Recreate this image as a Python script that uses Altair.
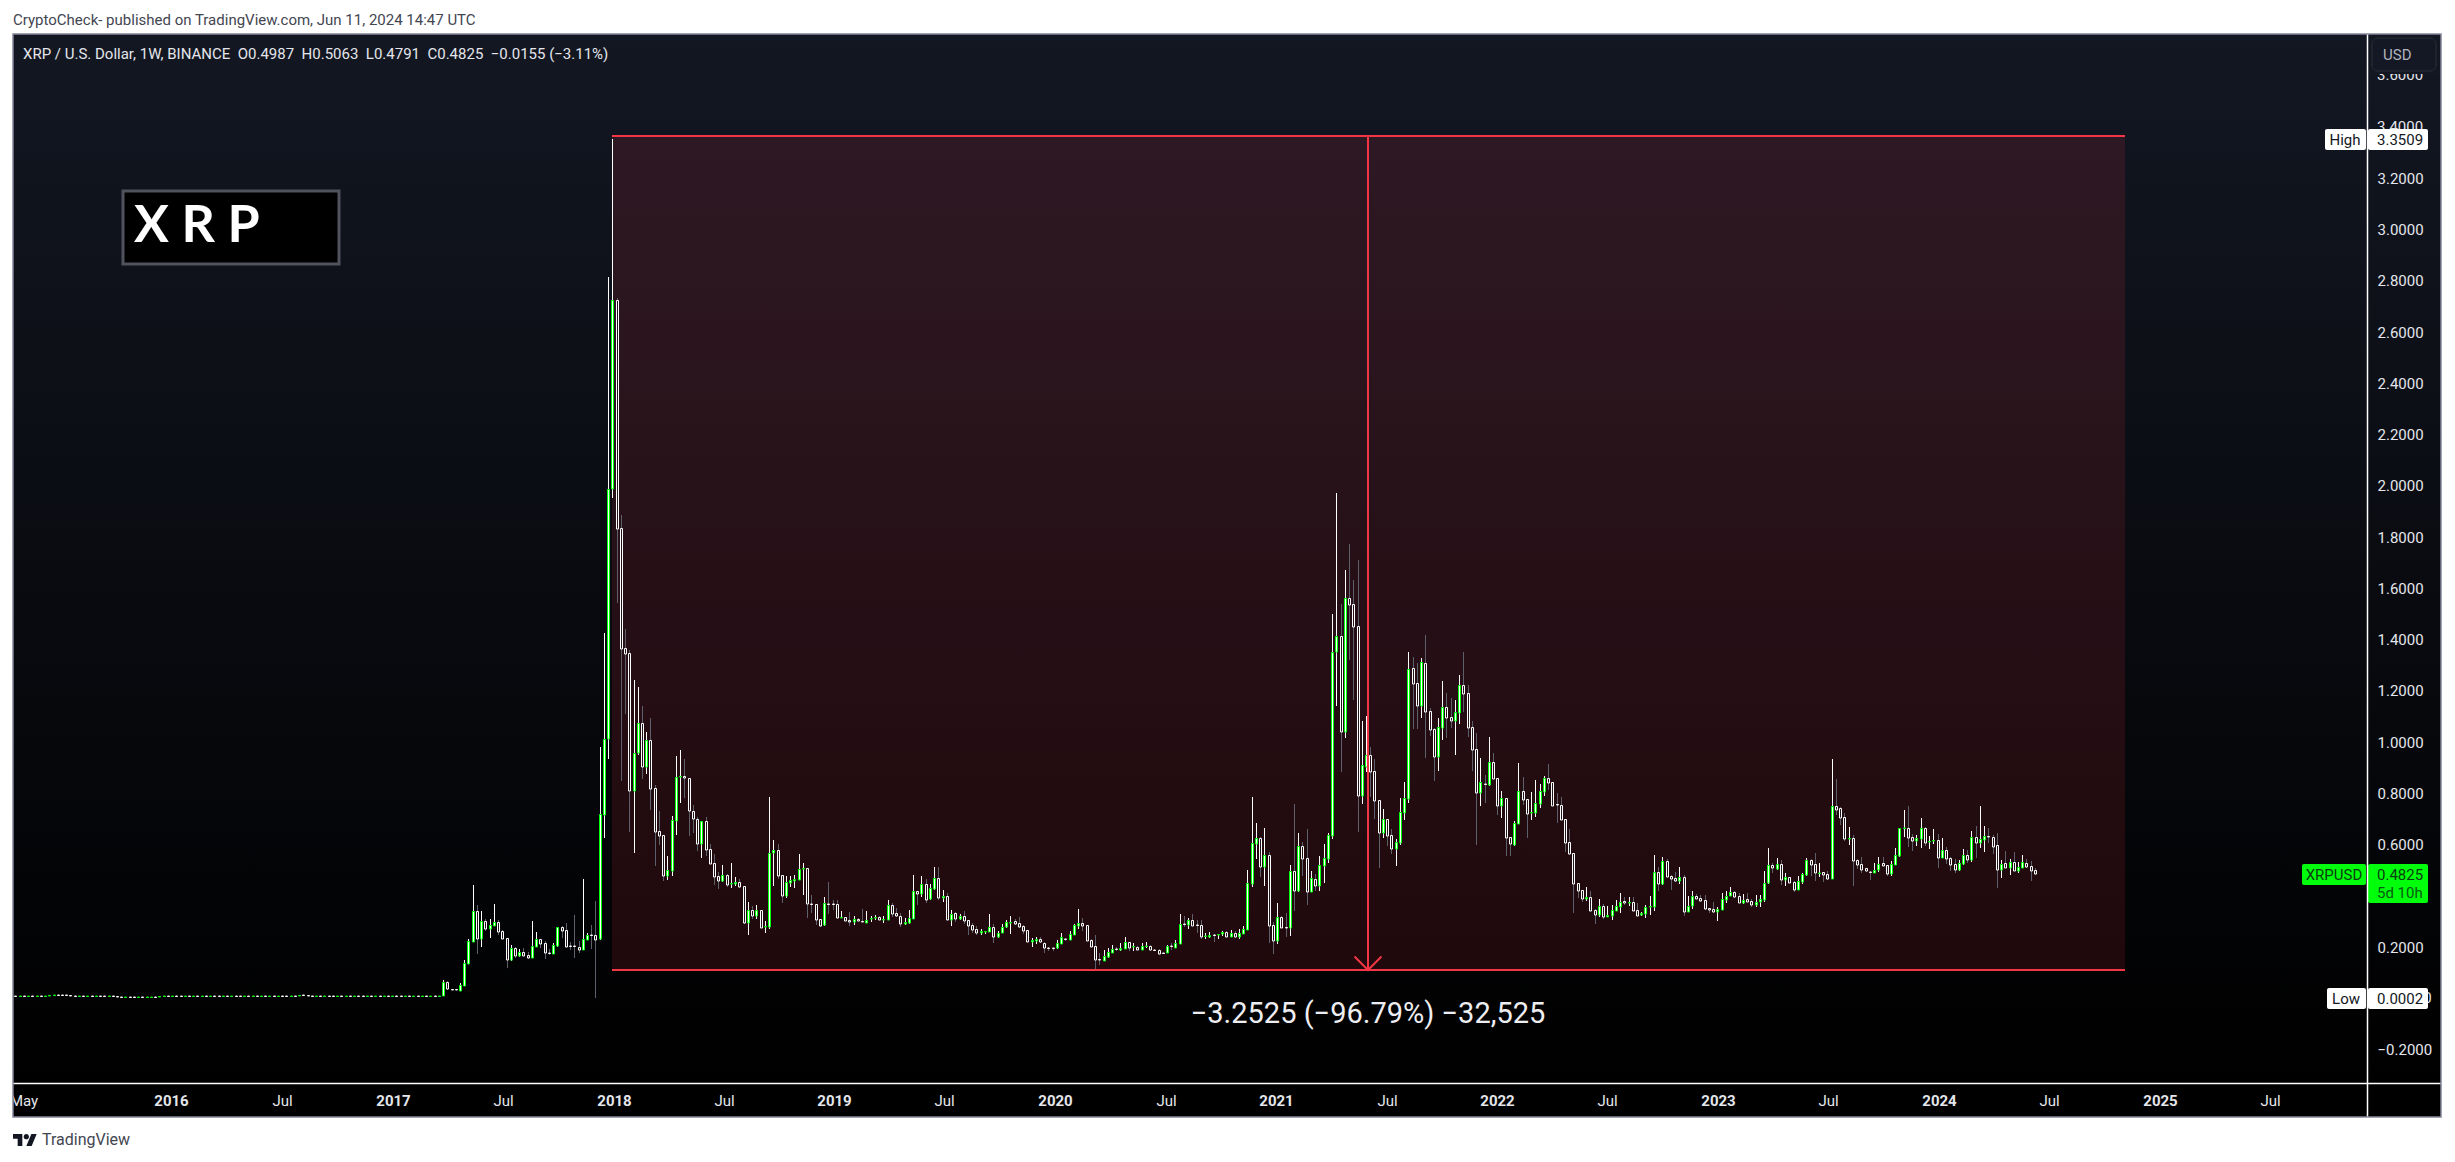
import pandas as pd
import altair as alt

# weekly candles from 2015-04-20 up to 2024-06-10, prices
opens = [
    .0078, .0074, .0078, .0073, .0077, .0074, .0078, .0073, .0077, .0105,
    .0108, .0106, .0104, .0101, .0082, .0079, .0081, .0077, .0080, .0078,
    .0081, .0078, .0076, .0078, .0075, .0050, .0047, .0052, .0049, .0047,
    .0051, .0046, .0049, .0052, .0050, .0074, .0078, .0073, .0079, .0074,
    .0072, .0078, .0074, .0079, .0073, .0077, .0074, .0080, .0075, .0072,
    .0077, .0073, .0079, .0074, .0072, .0078, .0075, .0080, .0074, .0078,
    .0073, .0077, .0074, .0079, .0075, .0072, .0078, .0073, .0105, .0102,
    .0076, .0073, .0078, .0074, .0079, .0075, .0072, .0077, .0074, .0079,
    .0073, .0077, .0075, .0072, .0078, .0074, .0079, .0073, .0077, .0074,
    .0079, .0075, .0072, .0078, .0074, .0079, .0073, .0077, .0074, .0079,
    .0075,
    .0091, .0624, .0340, .0335, .0286, .0480, .1340, .2198, .3394, .2315,
    .2991, .2705, .2822, .2965, .2614, .2328, .1483, .1951, .1639, .1795,
    .1665, .1574, .2003, .2289, .2133, .1775, .1730, .2029, .2757, .2653,
    .2020, .2020, .1977, .1886, .2276, .2450, .2445, .2289, .7153, 1.0092,
    1.9850, 2.7220, 1.8320, 1.3643, 1.3448, .8090, .9572, 1.0717, .9026, 1.0054,
    .8181, .6503, .6347, .4773, .4968, .6919, .8610, .8649, .8571, .7283,
    .6971, .6022, .6893, .5801, .5254, .4747, .4565, .4786, .4460, .4447,
    .4513, .4357, .2939, .3421, .3213, .3421, .2770, .2783, .5644, .5762,
    .4786, .3993, .4500, .4578, .4617, .5020, .5059, .3660, .3655, .3069,
    .2835, .3685, .3660, .3655, .3134, .3147, .3030, .2965, .3069, .2995,
    .2939, .3082, .3140, .3147, .3060, .3056, .3616, .3303, .3213, .2887,
    .2939, .3095, .4162, .4071, .4435, .3850, .4266, .4669, .3915, .3967,
    .3056, .3303, .3082, .3186, .3030, .2835, .2679, .2549, .2575, .2588,
    .2757, .2380, .2549, .2757, .2939, .2991, .2913, .2796, .2640, .2198,
    .2237, .2289, .2159, .1970, .1945, .1938, .2120, .2320, .2276, .2471,
    .2809, .2913, .2835, .2250, .2016, .1510, .1457, .1613, .1769, .1905,
    .1886, .1925, .2172, .2003, .2003, .1886, .2010, .2029, .1878, .1873,
    .1748, .1769, .2034, .1951, .2120, .2880, .2861, .3043, .2840, .2835,
    .2400, .2393, .2450, .2445, .2484, .2575, .2393, .2523, .2393, .2510,
    .2666, .4461, .6022, .6230, .5124, .5567, .2835, .2237, .3147, .2760,
    .2718, .4942, .4175, .5918, .5450, .4149, .4630, .4370, .5163, .5437,
    .6334, 1.3513, 1.4112, 1.0366, 1.5594, 1.5360, 1.4502, .7895, .9000, .9468,
    .8844, .7713, .6451, .6971, .6347, .5827, .6061, .7231, .7765, 1.2863,
    1.2278, 1.1406, 1.3058, 1.1185, 1.0483, .9416, 1.0548, 1.1341, 1.0951, 1.0821,
    1.1133, 1.2200, 1.1887, 1.0561, .9703, .8012, .8360, .8311, .9195, .8571,
    .7504, .7791, .6269, .5983, .6802, .8064, .7752, .7235, .7231, .7583,
    .8051, .8571, .8415, .7560, .7517, .6971, .6074, .5645, .4474, .4201,
    .3863, .3928, .3421, .3252, .3577, .3173, .3212, .3408, .3564, .3785,
    .3725, .3733, .3447, .3225, .3291, .3570, .3564, .4903, .4448, .5332,
    .4747, .4669, .4565, .4708, .3356, .3590, .3967, .3902, .3811, .3499,
    .3460, .3356, .3447, .3837, .3980, .4123, .3967, .3707, .3850, .3772,
    .3642, .3759, .3837, .4474, .5176, .5033, .5215, .4617, .4708, .4513,
    .4227, .4539, .4799, .5371, .5228, .4885, .4903, .4825, .4656, .7478,
    .7400, .7049, .6220, .6230, .5371, .5215, .5059, .4935, .4890, .5007,
    .5254, .5176, .4838, .5202, .5540, .6615, .6620, .6269, .6139, .6217,
    .6620, .6105, .6145, .6152, .5476, .5762, .5450, .5215, .4994, .5241,
    .5567, .5384, .6269, .6061, .6178, .6315, .6269, .5957, .5007, .5254,
    .5085, .5293, .4955, .5085, .5254, .5137, .4987,
]
highs = [
    .0080, .0080, .0080, .0080, .0080, .0080, .0080, .0080, .0107, .0110,
    .0108, .0106, .0105, .0103, .0083, .0081, .0082, .0081, .0081, .0082,
    .0082, .0079, .0079, .0079, .0076, .0052, .0053, .0053, .0050, .0052,
    .0052, .0050, .0053, .0053, .0075, .0079, .0079, .0080, .0080, .0075,
    .0080, .0080, .0080, .0080, .0080, .0080, .0080, .0080, .0080, .0080,
    .0080, .0080, .0080, .0080, .0080, .0080, .0080, .0080, .0080, .0080,
    .0080, .0080, .0080, .0080, .0080, .0080, .0080, .0107, .0107, .0103,
    .0080, .0080, .0080, .0080, .0080, .0080, .0080, .0080, .0080, .0080,
    .0080, .0080, .0080, .0080, .0080, .0080, .0080, .0080, .0080, .0080,
    .0080, .0080, .0080, .0080, .0080, .0080, .0080, .0080, .0080, .0080,
    .0095,
    .0702, .0660, .0350, .0350, .0572, .1483, .2302, .4409, .3629, .3394,
    .3082, .3082, .3668, .3043, .2653, .2340, .2068, .1977, .1912, .1951,
    .1795, .3004, .2575, .2289, .2224, .1899, .2133, .2757, .2809, .2913,
    .2185, .3238, .2224, .4643, .2523, .2848, .3785, .9780, 1.4228, 2.8130,
    3.3509, 2.7300, 1.8840, 1.4385, 1.3578, 1.2395, 1.2122, 1.1380, 1.0366, 1.0912,
    .8298, .7296, .6370, .5541, .7101, .9429, .9676, .9325, .8600, .7531,
    .7049, .6893, .7049, .6009, .5606, .4916, .5189, .4825, .5254, .4708,
    .4643, .4380, .3733, .3590, .3616, .3440, .2991, .7843, .6165, .6009,
    .4810, .4760, .4760, .4812, .5606, .5267, .5080, .4019, .3670, .3080,
    .3928, .4513, .3824, .3824, .3382, .3160, .3356, .3186, .3108, .3473,
    .3395, .3200, .3239, .3200, .3186, .3811, .3694, .3512, .3316, .3121,
    .3434, .4799, .4188, .4760, .4643, .4461, .5111, .5111, .4214, .4097,
    .3434, .3342, .3278, .3395, .3050, .2939, .2809, .2705, .2627, .3278,
    .2887, .2601, .2887, .3056, .3200, .3069, .3160, .2848, .2660, .2341,
    .2393, .2367, .2180, .1980, .1970, .2250, .2523, .2328, .2614, .2887,
    .3460, .3121, .2848, .2289, .2458, .1769, .1873, .1938, .2068, .2003,
    .2133, .2380, .2198, .2133, .2029, .2159, .2185, .2068, .1900, .1899,
    .1769, .2068, .2133, .2263, .3264, .3200, .3108, .3264, .3030, .3043,
    .2536, .2575, .2497, .2510, .2627, .2601, .2653, .2627, .2692, .2809,
    .4994, .7830, .6815, .6295, .6620, .5710, .2978, .3694, .3200, .3304,
    .5189, .7569, .6425, .6100, .6581, .4942, .4825, .5528, .5996, .6425,
    1.4970, 1.9704, 1.5360, 1.6700, 1.7701, 1.6310, 1.7090, 1.0808, 1.1003, .9794,
    .9312, .7730, .7361, .6990, .6581, .6217, .7804, .8415, 1.3487, 1.3305,
    1.3071, 1.3266, 1.4164, 1.1302, 1.0522, 1.0925, 1.2369, 1.1900, 1.1705, 1.1627,
    1.2603, 1.3500, 1.2200, 1.0795, 1.0340, .9364, .8714, 1.0184, .9559, .8590,
    .8064, .7810, .6290, .6893, .9156, .8610, .7770, .8038, .8506, .8363,
    .8662, .9130, .8430, .7986, .7843, .6990, .6594, .5665, .4490, .4220,
    .4331, .4175, .3486, .3863, .3668, .3590, .3629, .3824, .4084, .3954,
    .3928, .3954, .3694, .3355, .3642, .3980, .5580, .5111, .5501, .5436,
    .4812, .4916, .5111, .4799, .3980, .4175, .4045, .4032, .4019, .3525,
    .3733, .3538, .4084, .4175, .4331, .4188, .4097, .4071, .4097, .3850,
    .4006, .4006, .4955, .5853, .5254, .5450, .5371, .4864, .4730, .4552,
    .4760, .4864, .5450, .5410, .5645, .5254, .4929, .4942, .9312, .8532,
    .7439, .7205, .6659, .6347, .5410, .5502, .5085, .4968, .5254, .5502,
    .5502, .5202, .5345, .5840, .6633, .7335, .7491, .6386, .6347, .7023,
    .6659, .6321, .6594, .6386, .6243, .5892, .5489, .5410, .5384, .5814,
    .5775, .6516, .6711, .7491, .6711, .6633, .6360, .6438, .5384, .5736,
    .5423, .5697, .5306, .5579, .5423, .5345, .5063,
]
lows = [
    .0071, .0071, .0071, .0071, .0071, .0071, .0071, .0071, .0076, .0104,
    .0105, .0103, .0100, .0080, .0078, .0078, .0076, .0076, .0077, .0077,
    .0077, .0075, .0075, .0074, .0049, .0046, .0046, .0048, .0046, .0046,
    .0045, .0045, .0048, .0049, .0049, .0073, .0072, .0072, .0073, .0071,
    .0071, .0071, .0071, .0071, .0071, .0071, .0071, .0071, .0071, .0071,
    .0071, .0071, .0071, .0071, .0071, .0071, .0071, .0071, .0071, .0071,
    .0071, .0071, .0071, .0071, .0071, .0071, .0071, .0071, .0071, .0075,
    .0071, .0071, .0071, .0071, .0071, .0071, .0071, .0071, .0071, .0071,
    .0071, .0071, .0071, .0071, .0071, .0071, .0071, .0071, .0071, .0071,
    .0071, .0071, .0071, .0071, .0071, .0071, .0071, .0071, .0071, .0071,
    .0074,
    .0070, .0330, .0320, .0320, .0280, .0480, .1340, .2198, .1717, .1977,
    .2614, .2341, .2822, .2458, .2289, .1171, .1444, .1548, .1600, .1620,
    .1522, .1574, .2003, .1951, .1522, .1665, .1730, .1977, .2341, .1977,
    .1873, .1561, .1756, .1873, .2276, .1912, .0002, .2276, .6256, .9338,
    1.9500, 1.5400, .8480, 1.1081, .6477, .5671, .9500, .8558, .8740, .7335,
    .5163, .5970, .4578, .4617, .4773, .6360, .7609, .7804, .6321, .6451,
    .5749, .5476, .5554, .5228, .4422, .4266, .4539, .4318, .4305, .4370,
    .4292, .2887, .2471, .3082, .3082, .2718, .2549, .2705, .4370, .4656,
    .3720, .3915, .4331, .4305, .4617, .4032, .3134, .3317, .2861, .2783,
    .2822, .3290, .3447, .3108, .3134, .3004, .2822, .2861, .2978, .2952,
    .2926, .2965, .3043, .3030, .2939, .3056, .3173, .3173, .2783, .2861,
    .2900, .3082, .3629, .3954, .3720, .3824, .4214, .3837, .3746, .3030,
    .2822, .2978, .3056, .2887, .2471, .2536, .2471, .2471, .2510, .2575,
    .2146, .2341, .2523, .2731, .2497, .2861, .2731, .2510, .2172, .1990,
    .2120, .2133, .1756, .1847, .1847, .1912, .2107, .2237, .2263, .2471,
    .2705, .2627, .2220, .1990, .1066, .1288, .1444, .1574, .1743, .1834,
    .1847, .1912, .1834, .1834, .1860, .1860, .1964, .1834, .1834, .1691,
    .1730, .1743, .1873, .1938, .2120, .2783, .2692, .2809, .2549, .2315,
    .2289, .2354, .2198, .2315, .2419, .2367, .2367, .2354, .2315, .2484,
    .2653, .4344, .5424, .4708, .4383, .2159, .1730, .2120, .2718, .2393,
    .2432, .3408, .4149, .4760, .3629, .4136, .4162, .4175, .4474, .5267,
    .6204, 1.1393, .8818, 1.0158, 1.3188, 1.1627, .6490, .7583, .8818, .7843,
    .6984, .5072, .6243, .5931, .5632, .5163, .5970, .6945, .7609, 1.0496,
    1.0496, 1.0938, .9364, 1.0223, .8467, .8857, 1.0067, 1.0145, 1.0522, .9481,
    1.0691, 1.1159, 1.0184, .8857, .5970, .7504, .7609, .8285, .8530, .7140,
    .7036, .5554, .5554, .5931, .6776, .7531, .6243, .6945, .7075, .7413,
    .7882, .8116, .7478, .6841, .6932, .5710, .5593, .3317, .3902, .3746,
    .3798, .3382, .2900, .3147, .3082, .3147, .3056, .3395, .3304, .3642,
    .3577, .3382, .3186, .3200, .3134, .3238, .3408, .4188, .4422, .4708,
    .4214, .4539, .4448, .3212, .3343, .3486, .3863, .3759, .3447, .3330,
    .3330, .3017, .3434, .3707, .3967, .3902, .3694, .3655, .3733, .3551,
    .3564, .3564, .3746, .4448, .4864, .5007, .4409, .4370, .4487, .4149,
    .4214, .4461, .4760, .4760, .4552, .4721, .4526, .4617, .4656, .7140,
    .6750, .6139, .5970, .4370, .5046, .4890, .4929, .4604, .4877, .4916,
    .5150, .4760, .4760, .5189, .5502, .6295, .5892, .5736, .5931, .5853,
    .5931, .5814, .6009, .5072, .5450, .5228, .4968, .4877, .4955, .5189,
    .5254, .5306, .5463, .5853, .5697, .6048, .5619, .4292, .4682, .5059,
    .4799, .4942, .4877, .5072, .5085, .4565, .4791,
]
closes = [
    .0074, .0078, .0073, .0077, .0074, .0078, .0073, .0077, .0105, .0108,
    .0106, .0104, .0101, .0082, .0079, .0081, .0077, .0080, .0078, .0081,
    .0078, .0076, .0078, .0075, .0050, .0047, .0052, .0049, .0047, .0051,
    .0046, .0049, .0052, .0050, .0074, .0078, .0073, .0079, .0074, .0072,
    .0078, .0074, .0079, .0073, .0077, .0074, .0080, .0075, .0072, .0077,
    .0073, .0079, .0074, .0072, .0078, .0075, .0080, .0074, .0078, .0073,
    .0077, .0074, .0079, .0075, .0072, .0078, .0073, .0105, .0102, .0076,
    .0073, .0078, .0074, .0079, .0075, .0072, .0077, .0074, .0079, .0073,
    .0077, .0075, .0072, .0078, .0074, .0079, .0073, .0077, .0074, .0079,
    .0075, .0072, .0078, .0074, .0079, .0073, .0077, .0074, .0079, .0075,
    .0091,
    .0624, .0338, .0330, .0325, .0494, .1353, .2211, .3394, .2302, .2991,
    .2692, .2835, .2965, .2575, .2302, .1483, .1951, .1639, .1795, .1639,
    .1561, .2016, .2289, .2120, .1769, .1765, .2055, .2757, .2614, .2003,
    .2010, .2010, .1873, .2289, .2445, .2440, .2276, .7179, 1.0092, 1.9850,
    2.7220, 1.8290, 1.3630, 1.3435, .8090, .9546, 1.0717, .9026, 1.0054, .8168,
    .6490, .6334, .4773, .4981, .6932, .8610, .8649, .8597, .7309, .6971,
    .6022, .6893, .5788, .5241, .4734, .4578, .4786, .4422, .4475, .4513,
    .4331, .2939, .3421, .3213, .3421, .2744, .2822, .5644, .5762, .4773,
    .3993, .4513, .4591, .4630, .5020, .5059, .3681, .3650, .3056, .2822,
    .3694, .3675, .3650, .3134, .3160, .3017, .2978, .3069, .2991, .2980,
    .3056, .3121, .3150, .3056, .3070, .3616, .3290, .3213, .2900, .2952,
    .3108, .4162, .4071, .4435, .3837, .4279, .4669, .3915, .3967, .3056,
    .3290, .3082, .3200, .3017, .2822, .2666, .2549, .2601, .2601, .2757,
    .2393, .2549, .2757, .2952, .2978, .2900, .2783, .2627, .2198, .2263,
    .2289, .2172, .1964, .1960, .1935, .2133, .2367, .2310, .2484, .2835,
    .2913, .2822, .2237, .2003, .1496, .1470, .1626, .1782, .1899, .1895,
    .1951, .2172, .1964, .2029, .1873, .2029, .2020, .1873, .1868, .1730,
    .1738, .2029, .2024, .2133, .2874, .2870, .3043, .2822, .2830, .2380,
    .2410, .2458, .2440, .2497, .2575, .2393, .2523, .2393, .2536, .2692,
    .4474, .6035, .6230, .5124, .5567, .2822, .2237, .3147, .2744, .2750,
    .4942, .4188, .5918, .5437, .4149, .4669, .4370, .5176, .5450, .6347,
    1.3487, 1.4112, 1.0366, 1.5594, 1.5347, 1.4489, .7895, .9078, .9468, .8831,
    .7700, .6451, .6971, .6334, .5827, .6074, .7244, .7791, 1.2824, 1.2265,
    1.1406, 1.3097, 1.1172, 1.0470, .9416, 1.0561, 1.1341, 1.0938, 1.0821, 1.1146,
    1.2200, 1.1874, 1.0548, .9690, .8012, .8415, .8340, .9195, .8558, .7504,
    .7791, .6256, .6022, .6815, .8064, .7739, .7192, .7250, .7596, .8064,
    .8571, .8402, .7504, .7550, .6958, .6061, .5632, .4461, .4188, .3876,
    .3928, .3408, .3252, .3577, .3173, .3225, .3421, .3577, .3759, .3720,
    .3735, .3408, .3212, .3304, .3538, .3580, .4903, .4461, .5332, .4734,
    .4656, .4578, .4708, .3369, .3603, .3967, .3876, .3798, .3486, .3434,
    .3369, .3460, .3850, .3993, .4123, .3954, .3720, .3837, .3759, .3642,
    .3746, .3850, .4474, .5176, .5059, .5215, .4617, .4708, .4500, .4227,
    .4552, .4825, .5371, .5202, .4864, .4895, .4812, .4656, .7478, .7348,
    .7036, .6217, .6235, .5358, .5202, .5007, .4968, .4925, .5007, .5215,
    .5163, .4838, .5215, .5567, .6620, .6625, .6256, .6139, .6230, .6620,
    .6061, .6115, .6155, .5463, .5762, .5437, .5202, .5007, .5254, .5567,
    .5398, .6269, .6061, .6191, .6308, .6300, .5905, .5007, .5241, .5085,
    .5293, .4968, .5098, .5293, .5124, .4968, .4825,
]

RED = "#F23645"
GREEN = "#00FF0A"
W = 2354
H = 1049

candles = pd.DataFrame({"open": opens, "high": highs, "low": lows, "close": closes})
candles["date"] = pd.date_range("2015-04-20", periods=len(candles), freq="7D")
candles["top"] = candles[["open", "close"]].max(axis=1)
candles["bot"] = candles[["open", "close"]].min(axis=1)
up = candles["close"] > candles["open"]
candles["fill"] = up.map({True: "#ffffff", False: "#21141a"})
candles["edge"] = up.map({True: GREEN, False: "#ffffff"})
candles["wick"] = up.map({True: "#ffffff", False: "#5d606b"})

x_scale = alt.Scale(domain=["2015-04-16", "2025-12-11"], round=True, padding=0)
y_scale = alt.Scale(domain=[-0.3316, 3.7612], nice=False, zero=False, round=True, padding=0)

year_ticks = [alt.DateTime(year=y, month=1, date=3) for y in range(2016, 2026)]
july_ticks = [alt.DateTime(year=y, month=7, date=4) for y in range(2016, 2026)]
x_axis = alt.Axis(
    title=None, values=year_ticks + july_ticks, grid=False, ticks=False, domain=False, zindex=1,
    labelExpr="month(datum.value) == 0 ? timeFormat(datum.value, '%Y') : timeFormat(datum.value, '%b')",
    labelFontWeight={"condition": {"test": "month(datum.value) == 0", "value": "bold"}, "value": "normal"},
    labelFont="Roboto", labelFontSize=15, labelColor="#e4e6ec", labelPadding=10,
    labelOverlap=False, labelFlush=False, labelBound=False,
)
y_ticks = [3.2, 3.0, 2.8, 2.6, 2.4, 2.2, 2.0, 1.8, 1.6, 1.4, 1.2, 1.0, 0.8, 0.6, 0.2, -0.2]
y_axis = alt.Axis(
    title=None, orient="right", values=y_ticks, format=".4f", grid=False, ticks=False, domain=False,
    zindex=1, labelFont="Roboto", labelFontSize=15, labelColor="#e4e6ec", labelPadding=10,
    labelOverlap=False, labelFlush=False, labelBound=False,
)

one = pd.DataFrame({"a": [0]})


def X(field):
    return alt.X(field, type="temporal", scale=x_scale, axis=x_axis)


def Y(field):
    return alt.Y(field, type="quantitative", scale=y_scale, axis=y_axis)


# box and text helpers take page pixels
def box(x0, y0, x1, y1, **kw):
    return alt.Chart(one).mark_rect(**kw).encode(
        x=alt.value(x0 - 13), x2=alt.value(x1 - 13), y=alt.value(y0 - 34), y2=alt.value(y1 - 34)
    )


def line(x0, y0, x1, y1, color="#ffffff", width=1.5):
    return alt.Chart(one).mark_rule(color=color, strokeWidth=width).encode(
        x=alt.value(x0 - 13), x2=alt.value(x1 - 13), y=alt.value(y0 - 34), y2=alt.value(y1 - 34)
    )


def label(s, x, y, size=15, color="#e4e6ec", align="left", font="Roboto", weight="normal"):
    return alt.Chart(one).mark_text(
        text=s, fontSize=size, color=color, align=align, baseline="middle", font=font, fontWeight=weight
    ).encode(x=alt.value(x - 13), y=alt.value(y - 34))


background = box(13, 34, 2441, 1083, color=alt.LinearGradient(
    gradient="linear", x1=0, x2=0, y1=0, y2=1,
    stops=[alt.GradientStop(color="#131722", offset=0), alt.GradientStop(color="#000000", offset=1)],
))
bottom_band = box(13, 1083, 2441, 1117, color="#000000")

ruler = pd.DataFrame({"start": ["2018-01-01"], "end": ["2024-11-06"], "hi": [3.3617], "lo": [0.1092],
                      "mid": ["2021-06-03"]})
ruler_fill = alt.Chart(ruler).mark_rect(color=RED, opacity=0.13).encode(
    x=X("start"), x2="end", y=Y("hi"), y2="lo"
)

wicks = alt.Chart(candles).mark_rule(strokeWidth=1, xOffset=0.5).encode(
    x=X("date"), y=Y("high"), y2="low:Q",
    color=alt.Color("wick:N", scale=None),
)
bodies = alt.Chart(candles).mark_bar(size=2, strokeWidth=1, xOffset=0.5, yOffset=0.5).encode(
    x=X("date"), y=Y("top"), y2="bot",
    fill=alt.Fill("fill:N", scale=None),
    stroke=alt.Stroke("edge:N", scale=None),
)

ruler_top = alt.Chart(ruler).mark_rule(color=RED, strokeWidth=2).encode(x=X("start"), x2="end", y=Y("hi"))
ruler_bot = alt.Chart(ruler).mark_rule(color=RED, strokeWidth=2).encode(x=X("start"), x2="end", y=Y("lo"))
ruler_mid = alt.Chart(ruler).mark_rule(color=RED, strokeWidth=2).encode(x=X("mid"), y=Y("hi"), y2="lo")
arrow_head = alt.Chart(ruler).mark_point(
    shape="M-1 -1L0 0L1 -1", filled=False, stroke=RED, strokeWidth=2, size=729, opacity=1
).encode(x=X("mid"), y=Y("lo"))
ruler_text = label("\u22123.2525 (\u221296.79%) \u221232,525", 1368, 1014, size=29, color="#eeeef2", align="center")

# ticks partly hidden behind the price labels
hidden_ticks = pd.DataFrame({"v": [3.6, 3.4, 0.0], "t": ["3.6000", "3.4000", "\u22120.0000"]})
hidden_labels = alt.Chart(hidden_ticks).mark_text(
    align="left", baseline="middle", font="Roboto", fontSize=15, color="#e4e6ec"
).encode(x=alt.value(2377 - 13), y=Y("v"), text="t:N")

may = alt.Chart(pd.DataFrame({"d": ["2015-05-04"], "t": ["May"]})).mark_text(
    align="center", baseline="middle", font="Roboto", fontSize=15, color="#e4e6ec"
).encode(x=X("d"), y=alt.value(1100.5 - 34), text="t:N")

tv_logo = alt.Chart(one).mark_point(
    shape="M-4 9H-11V-2H-18V-9H-4ZM10 9H2L9.5 -9H17.5ZM-2 -5a4 4 0 1 0 8 0a4 4 0 1 0 -8 0Z",
    filled=True, fill="#131722", opacity=1, size=1.78, strokeWidth=0,
).encode(x=alt.value(25 - 13), y=alt.value(1140 - 34))

chart = alt.layer(
    background, bottom_band,
    ruler_fill, wicks, bodies,
    ruler_top, ruler_bot, ruler_mid, arrow_head, ruler_text,
    # XRP tag
    box(123, 191, 339, 264, color="#000000", stroke="#50535e", strokeWidth=3),
    label("X R P", 134, 226, size=52, color="#ffffff", font="Lato", weight=700),
    # chart header and page texts
    label("CryptoCheck- published on TradingView.com, Jun 11, 2024 14:47 UTC", 13, 20, size=15, color="#434651"),
    label("XRP / U.S. Dollar, 1W, BINANCE\u00a0\u00a0O0.4987\u00a0\u00a0H0.5063\u00a0\u00a0L0.4791\u00a0\u00a0C0.4825\u00a0\u00a0\u22120.0155 (\u22123.11%)",
          23, 54, size=15, color="#e4e6ec"),
    tv_logo,
    label("TradingView", 42, 1140, size=16, color="#434651"),
    may,
    box(0, 1084, 12, 1117, color="#ffffff"),
    hidden_labels,
    # USD button
    box(2368, 35, 2440, 74, color="#131722"),
    box(2372, 38, 2436, 71, color="#141824", stroke="#2a2e39", strokeWidth=1, cornerRadius=6),
    label("USD", 2383, 55, size=15, color="#b2b5be"),
    # High
    box(2325, 129, 2366, 150, color="#ffffff", cornerRadius=2),
    box(2368, 129, 2428, 150, color="#ffffff", cornerRadius=2),
    label("High", 2345, 139.5, color="#131722", align="center"),
    label("3.3509", 2377, 139.5, color="#131722"),
    # Low
    box(2327, 988, 2366, 1009, color="#ffffff", cornerRadius=2),
    box(2368, 988, 2428, 1009, color="#ffffff", cornerRadius=2),
    label("Low", 2346, 998.5, color="#131722", align="center"),
    label("0.0002", 2377, 998.5, color="#131722"),
    # last price
    box(2302, 864, 2366, 885, color=GREEN, cornerRadius=2),
    box(2368, 864, 2428, 903, color=GREEN, cornerRadius=2),
    label("XRPUSD", 2334, 875, color="#0a3d12", align="center"),
    label("0.4825", 2377, 875, color="#0a3d12"),
    label("5d 10h", 2377, 893, color="#0a5a12"),
    # frame
    line(2367.5, 34, 2367.5, 1117),
    line(13, 1083.5, 2441, 1083.5),
    box(13, 34, 2441, 1117, fillOpacity=0, stroke="#85879a", strokeWidth=1.5),
).properties(
    width=W,
    height=H,
    background="#ffffff",
    padding={"left": 5, "top": 26, "right": 80, "bottom": 70},
    autosize=alt.AutoSizeParams(type="none"),
).configure_view(strokeWidth=0)

chart.save("out.html", embed_options={"renderer": "svg", "actions": False})
